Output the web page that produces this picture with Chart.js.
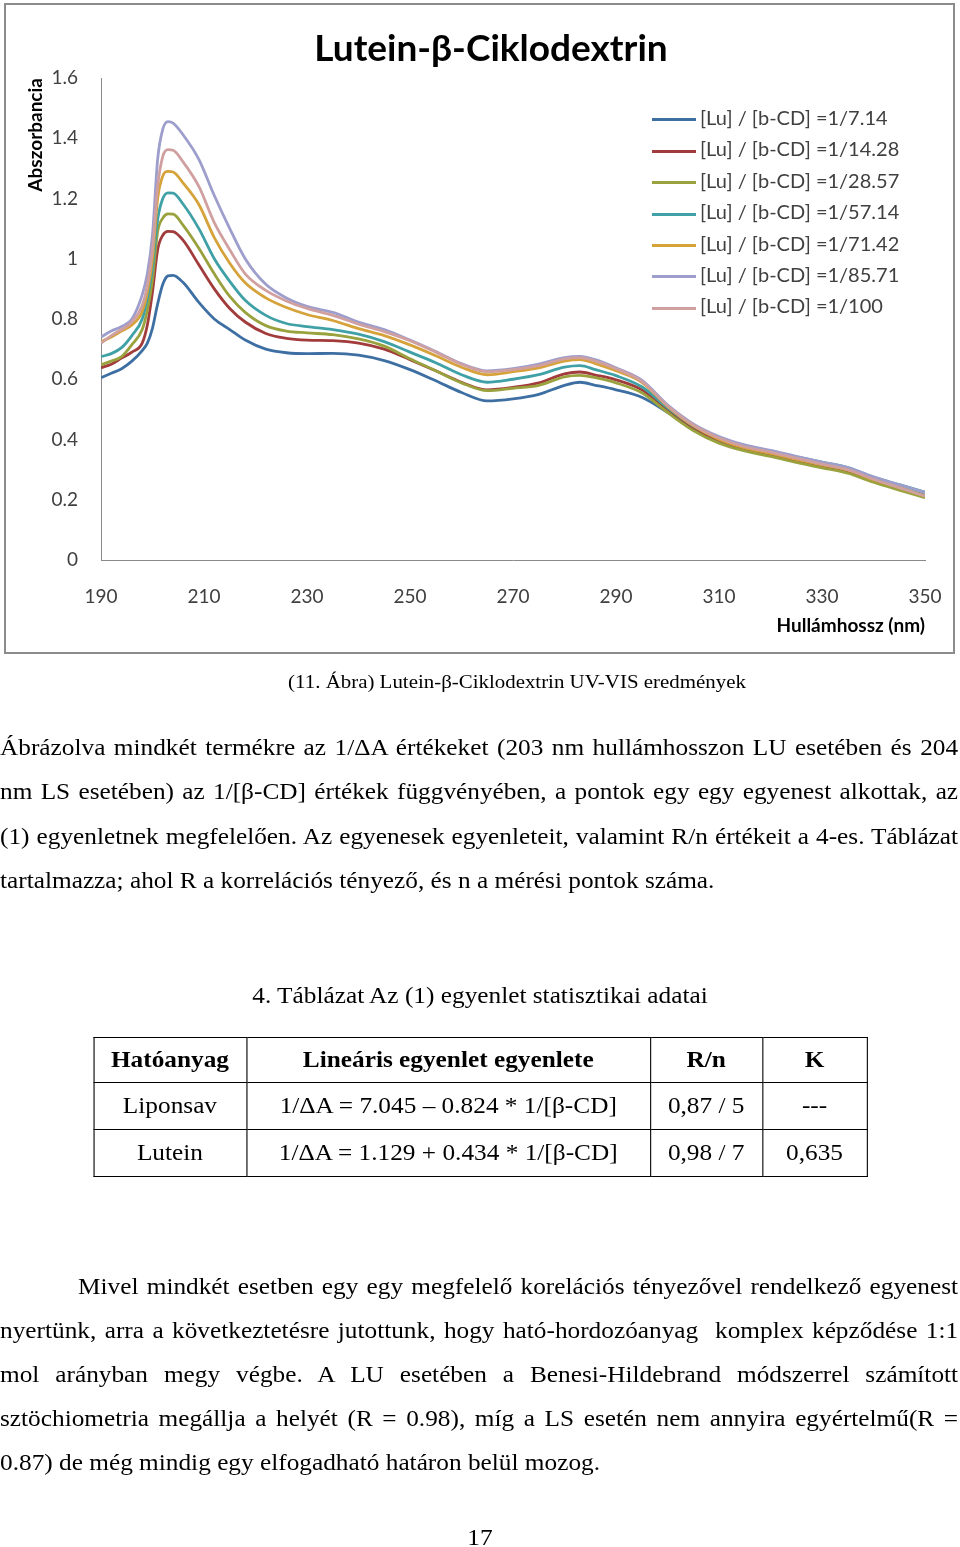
<!DOCTYPE html>
<html lang="hu">
  <head>
    <meta charset="UTF-8" />
    <title>Lutein-β-Ciklodextrin</title>
    <script src="https://cdn.jsdelivr.net/npm/chart.js@4.4.1/dist/chart.umd.min.js"></script>
    <style>
      body {
        margin: 0;
        background: #fff;
      }
      #page {
        position: relative;
        width: 960px;
        height: 1547px;
        overflow: hidden;
        font-family: 'Liberation Serif', 'Times New Roman', serif;
        color: #000;
      }
      #chartBox {
        position: absolute;
        left: 4px;
        top: 3px;
        width: 951px;
        height: 651px;
        box-sizing: border-box;
        border: 2px solid #8c8c8c;
      }
      #chartInner {
        position: relative;
        width: 947px;
        height: 647px;
      }
      #legend {
        position: absolute;
        left: 652px;
        top: 102px;
        font-family: Lato, sans-serif;
        font-size: 20px;
        color: #404040;
      }
      .lg-row {
        height: 31.4px;
        line-height: 31.4px;
        white-space: nowrap;
      }
      .lg-line {
        display: inline-block;
        width: 44px;
        height: 3px;
        vertical-align: middle;
        margin-right: 4px;
      }
      /* the scanned page is a little wider than plain Times, so the text layer is stretched */
      #textLayer {
        position: absolute;
        left: 0;
        top: 0;
        width: 872.7px;
        height: 1547px;
        transform: scaleX(1.1);
        transform-origin: 0 0;
      }
      .txt {
        position: absolute;
        font-size: 23px;
        line-height: 44px;
      }
      .just {
        left: 0;
        width: 871px;
        text-align: justify;
        text-align-last: justify;
      }
      table {
        position: absolute;
        left: 84.5px;
        top: 1037px;
        border-collapse: collapse;
        font-size: 23px;
      }
      td, th {
        border: 1px solid #000;
        text-align: center;
        padding: 0;
      }
    </style>
  </head>
  <body>
    <div id="page">
      <div id="chartBox">
        <div id="chartInner"><canvas id="spectra"></canvas></div>
      </div>
      <div id="legend"></div>

      <div id="textLayer">
        <div class="txt" style="left:249px; width:442px; top:660px; font-size:19px; text-align:center;">(11. Ábra) Lutein-β-Ciklodextrin UV-VIS eredmények</div>

        <div class="txt just" style="top:726px;">Ábrázolva mindkét termékre az 1/ΔA értékeket (203 nm hullámhosszon LU esetében és 204</div>
        <div class="txt just" style="top:770px;">nm LS esetében) az 1/[β-CD] értékek függvényében, a pontok egy egy egyenest alkottak, az</div>
        <div class="txt just" style="top:815px;">(1) egyenletnek megfelelően. Az egyenesek egyenleteit, valamint R/n értékeit a 4-es. Táblázat</div>
        <div class="txt" style="left:0; top:859px;">tartalmazza; ahol R a korrelációs tényező, és n a mérési pontok száma.</div>

        <div class="txt" style="left:0; width:872.7px; top:974px; text-align:center;">4. Táblázat Az (1) egyenlet statisztikai adatai</div>

        <table>
          <tr style="height:45px;">
            <th style="width:138px;">Hatóanyag</th>
            <th style="width:366px;">Lineáris egyenlet egyenlete</th>
            <th style="width:101px;">R/n</th>
            <th style="width:94px;">K</th>
          </tr>
          <tr style="height:47px;">
            <td>Liponsav</td>
            <td>1/ΔA = 7.045 – 0.824 * 1/[β-CD]</td>
            <td>0,87 / 5</td>
            <td>---</td>
          </tr>
          <tr style="height:47px;">
            <td>Lutein</td>
            <td>1/ΔA = 1.129 + 0.434 * 1/[β-CD]</td>
            <td>0,98 / 7</td>
            <td>0,635</td>
          </tr>
        </table>

        <div class="txt just" style="left:71px; width:800px; top:1265px;">Mivel mindkét esetben egy egy megfelelő korelációs tényezővel rendelkező egyenest</div>
        <div class="txt just" style="top:1309px;">nyertünk, arra a következtetésre jutottunk, hogy ható-hordozóanyag&nbsp; komplex képződése 1:1</div>
        <div class="txt just" style="top:1353px;">mol arányban megy végbe. A LU esetében a Benesi-Hildebrand módszerrel számított</div>
        <div class="txt just" style="top:1397px;">sztöchiometria megállja a helyét (R = 0.98), míg a LS esetén nem annyira egyértelmű(R =</div>
        <div class="txt" style="left:0; top:1441px;">0.87) de még mindig egy elfogadható határon belül mozog.</div>

        <div class="txt" style="left:0; width:872.7px; top:1516px; text-align:center;">17</div>
      </div>
    </div>

    <script>
      // wavelengths (nm)
      const wavelengths = [190, 192, 194, 196, 198, 199, 200, 201, 202, 203, 204, 206, 209, 212, 215, 218, 222, 226, 230, 235, 240, 245, 250, 255, 260, 265, 270, 275, 280, 283, 286, 290, 295, 300, 305, 310, 315, 320, 325, 330, 335, 340, 345, 350];

      const seriesLabels = ['[Lu] / [b-CD] =1/7.14', '[Lu] / [b-CD] =1/14.28', '[Lu] / [b-CD] =1/28.57', '[Lu] / [b-CD] =1/57.14', '[Lu] / [b-CD] =1/71.42', '[Lu] / [b-CD] =1/85.71', '[Lu] / [b-CD] =1/100'];
      const seriesColors = ['#3e6fa3', '#a23b3b', '#9aa23e', '#3fa0a6', '#d6a23a', '#9d9ecb', '#d0a0a0'];

      const abs714 = [0.605, 0.62, 0.635, 0.66, 0.695, 0.72, 0.77, 0.85, 0.915, 0.943, 0.945, 0.92, 0.855, 0.80, 0.765, 0.73, 0.70, 0.688, 0.685, 0.686, 0.68, 0.662, 0.632, 0.595, 0.556, 0.528, 0.535, 0.55, 0.58, 0.59, 0.58, 0.565, 0.54, 0.49, 0.435, 0.395, 0.37, 0.35, 0.33, 0.315, 0.295, 0.265, 0.24, 0.215];
      const abs1428 = [0.638, 0.65, 0.67, 0.69, 0.72, 0.78, 0.89, 1.03, 1.078, 1.091, 1.09, 1.06, 0.98, 0.90, 0.835, 0.79, 0.752, 0.736, 0.73, 0.728, 0.72, 0.70, 0.665, 0.628, 0.59, 0.565, 0.573, 0.588, 0.618, 0.624, 0.614, 0.598, 0.565, 0.50, 0.44, 0.398, 0.37, 0.35, 0.33, 0.312, 0.293, 0.262, 0.236, 0.21];
      const abs2857 = [0.648, 0.66, 0.675, 0.715, 0.765, 0.83, 0.93, 1.09, 1.135, 1.149, 1.148, 1.11, 1.035, 0.95, 0.875, 0.822, 0.778, 0.76, 0.754, 0.748, 0.734, 0.71, 0.668, 0.628, 0.588, 0.562, 0.57, 0.58, 0.608, 0.613, 0.605, 0.588, 0.555, 0.49, 0.43, 0.388, 0.362, 0.344, 0.324, 0.306, 0.288, 0.258, 0.232, 0.207];
      const abs5714 = [0.675, 0.685, 0.705, 0.745, 0.80, 0.87, 0.97, 1.13, 1.20, 1.219, 1.218, 1.18, 1.10, 1.00, 0.925, 0.862, 0.812, 0.785, 0.775, 0.765, 0.75, 0.725, 0.69, 0.655, 0.615, 0.59, 0.60, 0.615, 0.64, 0.645, 0.632, 0.612, 0.575, 0.505, 0.445, 0.405, 0.38, 0.362, 0.342, 0.325, 0.307, 0.275, 0.25, 0.225];
      const abs7142 = [0.725, 0.74, 0.76, 0.78, 0.825, 0.89, 1.00, 1.20, 1.275, 1.29, 1.288, 1.25, 1.18, 1.07, 0.985, 0.92, 0.87, 0.838, 0.815, 0.795, 0.768, 0.745, 0.714, 0.678, 0.64, 0.615, 0.625, 0.638, 0.66, 0.665, 0.652, 0.628, 0.59, 0.51, 0.445, 0.40, 0.372, 0.354, 0.334, 0.316, 0.298, 0.267, 0.24, 0.213];
      const abs8571 = [0.74, 0.76, 0.775, 0.80, 0.88, 0.95, 1.08, 1.33, 1.43, 1.455, 1.45, 1.41, 1.33, 1.21, 1.10, 1.00, 0.915, 0.87, 0.842, 0.822, 0.79, 0.765, 0.73, 0.692, 0.652, 0.628, 0.635, 0.65, 0.672, 0.676, 0.665, 0.638, 0.597, 0.515, 0.452, 0.41, 0.382, 0.364, 0.344, 0.325, 0.307, 0.276, 0.25, 0.225];
      const abs100 = [0.72, 0.745, 0.765, 0.79, 0.845, 0.91, 1.03, 1.24, 1.34, 1.362, 1.36, 1.32, 1.24, 1.12, 1.03, 0.95, 0.895, 0.86, 0.835, 0.812, 0.783, 0.758, 0.728, 0.69, 0.65, 0.625, 0.632, 0.645, 0.668, 0.672, 0.66, 0.635, 0.593, 0.512, 0.448, 0.405, 0.376, 0.358, 0.338, 0.318, 0.30, 0.268, 0.24, 0.212];

      const seriesValues = [abs714, abs1428, abs2857, abs5714, abs7142, abs8571, abs100];

      const chartFont = 'Lato, sans-serif';

      const datasets = seriesValues.map((vals, i) => ({
        label: seriesLabels[i],
        data: wavelengths.map((w, j) => ({ x: w, y: vals[j] })),
        borderColor: seriesColors[i],
        backgroundColor: seriesColors[i],
        borderWidth: 2.8,
        pointRadius: 0,
        cubicInterpolationMode: 'monotone',
        fill: false,
        order: seriesValues.length - i,
      }));

      // chart title drawn at the spot Excel put it
      const titlePlugin = {
        id: 'excelTitle',
        afterDraw(chart) {
          const c = chart.ctx;
          c.save();
          c.font = 'bold 37px ' + chartFont;
          c.fillStyle = '#000';
          c.textAlign = 'center';
          c.textBaseline = 'middle';
          c.fillText('Lutein-β-Ciklodextrin', 485, 44);
          c.restore();
        },
      };

      const chart = new Chart(document.getElementById('spectra'), {
        type: 'line',
        data: { datasets: datasets },
        plugins: [titlePlugin],
        options: {
          responsive: true,
          maintainAspectRatio: false,
          animation: false,
          layout: { padding: { top: 73, right: 28, left: 0, bottom: 0 } },
          plugins: {
            legend: { display: false },
            tooltip: { enabled: false },
          },
          scales: {
            x: {
              type: 'linear',
              min: 190,
              max: 350,
              // invisible tick marks give the label gap without widening the side padding
              grid: { display: true, drawOnChartArea: false, drawTicks: true, tickLength: 25, tickColor: 'rgba(0,0,0,0)' },
              border: { display: true, color: '#8a8a8a', width: 1 },
              ticks: {
                stepSize: 20,
                padding: 0,
                color: '#404040',
                font: { family: chartFont, size: 19 },
              },
              title: {
                display: true,
                text: 'Hullámhossz (nm)',
                align: 'end',
                color: '#000',
                font: { family: chartFont, size: 19, weight: 'bold' },
                padding: { top: 0, bottom: 15 },
              },
              afterFit(scale) {
                scale.height = 92;
              },
            },
            y: {
              min: 0,
              max: 1.6,
              grid: { display: false },
              border: { display: true, color: '#8a8a8a', width: 1 },
              ticks: {
                stepSize: 0.2,
                padding: 15,
                color: '#404040',
                font: { family: chartFont, size: 19 },
                callback: (v) => String(parseFloat(v.toFixed(1))),
              },
              title: {
                display: true,
                text: 'Abszorbancia',
                align: 'end',
                color: '#000',
                font: { family: chartFont, size: 19, weight: 'bold' },
                padding: { top: 18, bottom: 0 },
              },
              afterFit(scale) {
                scale.width = 95;
              },
            },
          },
        },
      });

      // legend built from the datasets
      const legendEl = document.getElementById('legend');
      chart.data.datasets.forEach((ds) => {
        const row = document.createElement('div');
        row.className = 'lg-row';
        const sw = document.createElement('span');
        sw.className = 'lg-line';
        sw.style.background = ds.borderColor;
        row.appendChild(sw);
        row.appendChild(document.createTextNode(ds.label));
        legendEl.appendChild(row);
      });
    </script>
  </body>
</html>
